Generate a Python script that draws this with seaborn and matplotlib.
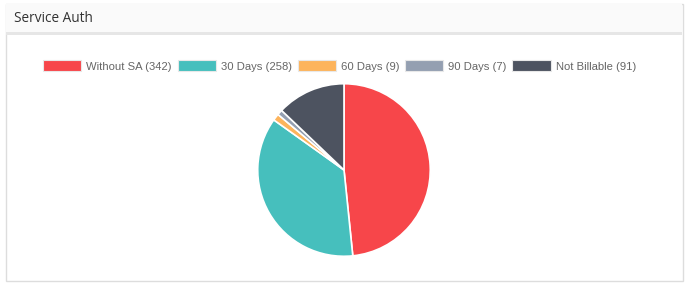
import matplotlib
matplotlib.use("Agg")
import matplotlib.pyplot as plt
import seaborn as sns
from matplotlib.patches import Rectangle, Patch

sns.set_theme(style="white")
plt.rcParams['font.family'] = ['Liberation Sans', 'DejaVu Sans']

title = "Service Auth"
categories = ["Without SA", "30 Days", "60 Days", "90 Days", "Not Billable"]
values = [342, 258, 9, 7, 91]
colors = ["#f7464a", "#46bfbd", "#fdb45c", "#949fb1", "#4d5360"]

W, H = 688, 284
fig = plt.figure(figsize=(W / 100, H / 100), dpi=100)
fig.patch.set_facecolor("white")

def fx(px):
    return px / W

def fy(py):
    return 1 - py / H

# panel border
fig.add_artist(Rectangle((fx(5.5), fy(280.5)), fx(677), (277) / H, transform=fig.transFigure,
                         facecolor="white", edgecolor="#dddddd", lw=1, zorder=0))
# header background
fig.add_artist(Rectangle((fx(6), fy(32)), fx(676), 29 / H, transform=fig.transFigure,
                         facecolor="#fafafa", edgecolor="none", zorder=1))
# header bottom line
fig.add_artist(Rectangle((fx(6), fy(35)), fx(676), 3 / H, transform=fig.transFigure,
                         facecolor="#e6e6e6", edgecolor="none", zorder=1))
fig.text(fx(14), fy(19), title, fontsize=9.8, color="#333333", va="center", ha="left",
         family=["Open Sans", "DejaVu Sans"], zorder=2)

# pie
cx, cy, r = 344, 170, 88
ax = fig.add_axes([fx(cx - r), fy(cy + r), 2 * r / W, 2 * r / H])
ax.pie(values, colors=colors, startangle=90, counterclock=False, radius=1,
       wedgeprops=dict(edgecolor="white", linewidth=1.2))
ax.set_xlim(-1.02, 1.02)
ax.set_ylim(-1.02, 1.02)
ax.set_aspect("equal")
ax.axis("off")

# legend
labels = [f"{c} ({v})" for c, v in zip(categories, values)]
handles = [Patch(facecolor=col, edgecolor="#e8e8e8", lw=0.8) for col in colors]
leg = fig.legend(handles, labels, loc="center", bbox_to_anchor=(fx(339.5), fy(66)), ncol=5,
                 frameon=False, fontsize=8.1, handlelength=3.4, handleheight=1.1,
                 handletextpad=0.45, columnspacing=0.5, borderaxespad=0)
for t in leg.get_texts():
    t.set_color("#666666")

fig.savefig("out.png", dpi=100, facecolor="white")
